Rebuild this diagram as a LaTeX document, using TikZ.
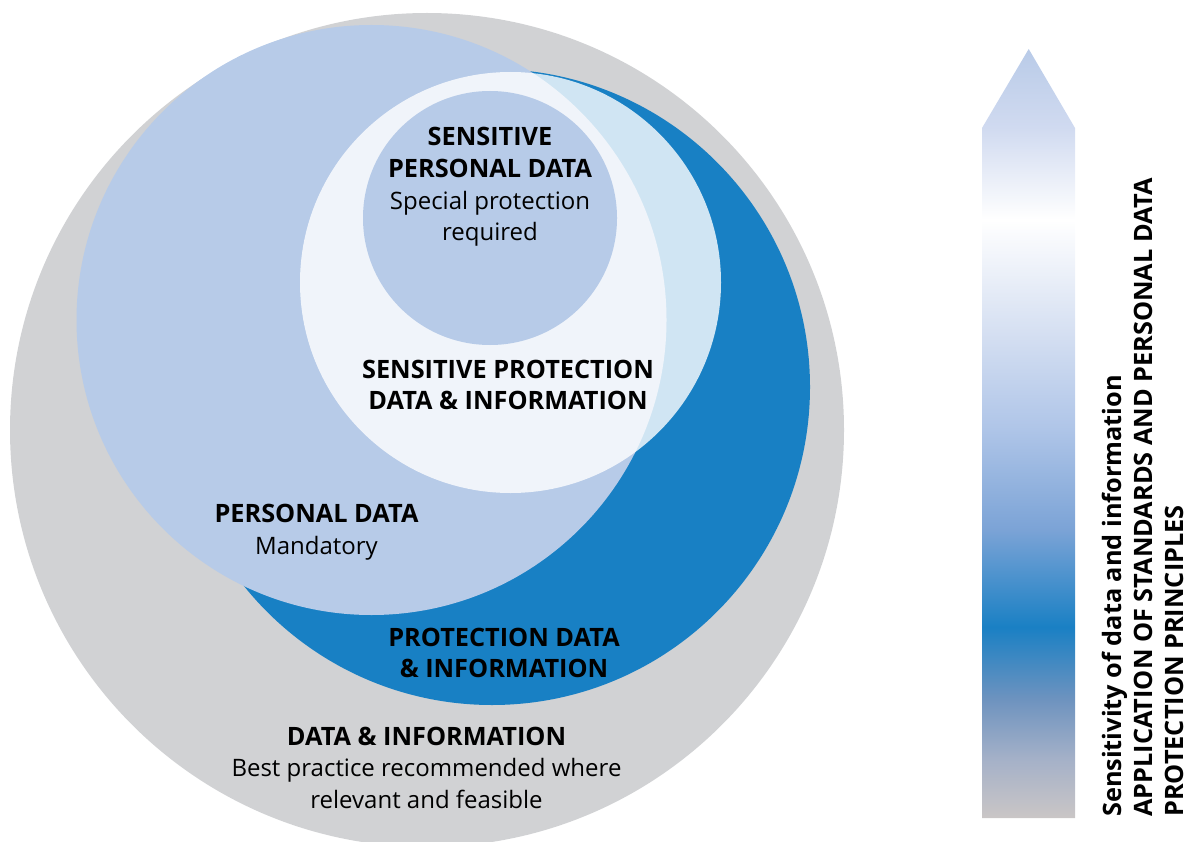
\documentclass[tikz,border=0pt]{standalone}
\usepackage{fontspec}
\setmainfont{Open Sans}

% fills of the nested data circles
\definecolor{dataGray}{RGB}{209,210,212}
\definecolor{protBlue}{RGB}{24,128,196}
\definecolor{persBlue}{RGB}{183,203,232}

% stops of the sensitivity scale, bottom to top
\definecolor{sA}{RGB}{202,198,198}
\definecolor{sB}{RGB}{165,177,200}
\definecolor{sC}{RGB}{110,147,191}
\definecolor{sD}{RGB}{26,128,196}
\definecolor{sE}{RGB}{123,163,214}
\definecolor{sF}{RGB}{175,197,232}
\definecolor{sG}{RGB}{214,224,242}
\definecolor{sH}{RGB}{255,255,255}
\definecolor{sI}{RGB}{208,218,240}
\definecolor{sJ}{RGB}{185,203,232}

\pgfdeclareverticalshading{sensitivity}{100bp}{%
  color(0bp)=(sA); color(25bp)=(sA); color(28.8bp)=(sB); color(32.7bp)=(sC);
  color(37.4bp)=(sD); color(43.7bp)=(sE); color(50.3bp)=(sF); color(56.7bp)=(sG);
  color(63.9bp)=(sH); color(69.9bp)=(sI); color(75bp)=(sJ); color(100bp)=(sJ)}

\begin{document}
\begin{tikzpicture}[x=1pt,y=-1pt,
  head/.style={font=\bfseries\fontsize{25.3}{30}\selectfont, anchor=base, inner sep=0pt},
  body/.style={font=\fontsize{24}{29}\selectfont, anchor=base, inner sep=0pt},
  side/.style={head, rotate=90, anchor=base west}]
\useasboundingbox (0,0) rectangle (1190,842);

\begin{scope}
  \clip (0,0) rectangle (1190,842);
  \coordinate (cAll)  at (427,430);
  \coordinate (cProt) at (492,387);
  \coordinate (cPers) at (371.5,320);
  \coordinate (cSens) at (510.5,282.5);
  \coordinate (cSpec) at (490,218);
  \fill[dataGray] (cAll) circle[radius=417pt];
  \fill[protBlue] (cProt) circle[radius=318pt];
  \fill[persBlue] (cPers) circle[radius=295pt];
  \fill[white, fill opacity=0.8] (cSens) circle[radius=210.5pt];
  \fill[persBlue] (cSpec) circle[radius=127pt];
\end{scope}

% labels inside the circles
\node[head] (spdA) at (490,145.7) {SENSITIVE};
\node[head] (spdB) at (490,177.3) {PERSONAL DATA};
\node[body] (spdC) at (490,209.3) {Special protection};
\node[body] (spdD) at (490,240.7) {required};

\node[head] (spiA) at (508,378.3) {SENSITIVE PROTECTION};
\node[head] (spiB) at (508,409.3) {DATA \& INFORMATION};

\node[head] (pdA) at (316.5,522.7) {PERSONAL DATA};
\node[body] (pdB) at (316.5,554.3) {Mandatory};

\node[head] (pinA) at (504,646) {PROTECTION DATA};
\node[head] (pinB) at (504,677.3) {\& INFORMATION};

\node[head] (diA) at (426.5,745) {DATA \& INFORMATION};
\node[body] (diB) at (426.5,776.7) {Best practice recommended where};
\node[body] (diC) at (426.5,808.3) {relevant and feasible};

% sensitivity scale arrow
\shade[shading=sensitivity]
  (982,818) -- (982,128) -- (1028.7,49) -- (1075,128) -- (1075,818) -- cycle;

\node[side] (axA) at (1121,817) {Sensitivity of data and information};
\node[side] (axB) at (1152,817) {APPLICATION OF STANDARDS AND PERSONAL DATA};
\node[side] (axC) at (1183,817) {PROTECTION PRINCIPLES};
\end{tikzpicture}
\end{document}
